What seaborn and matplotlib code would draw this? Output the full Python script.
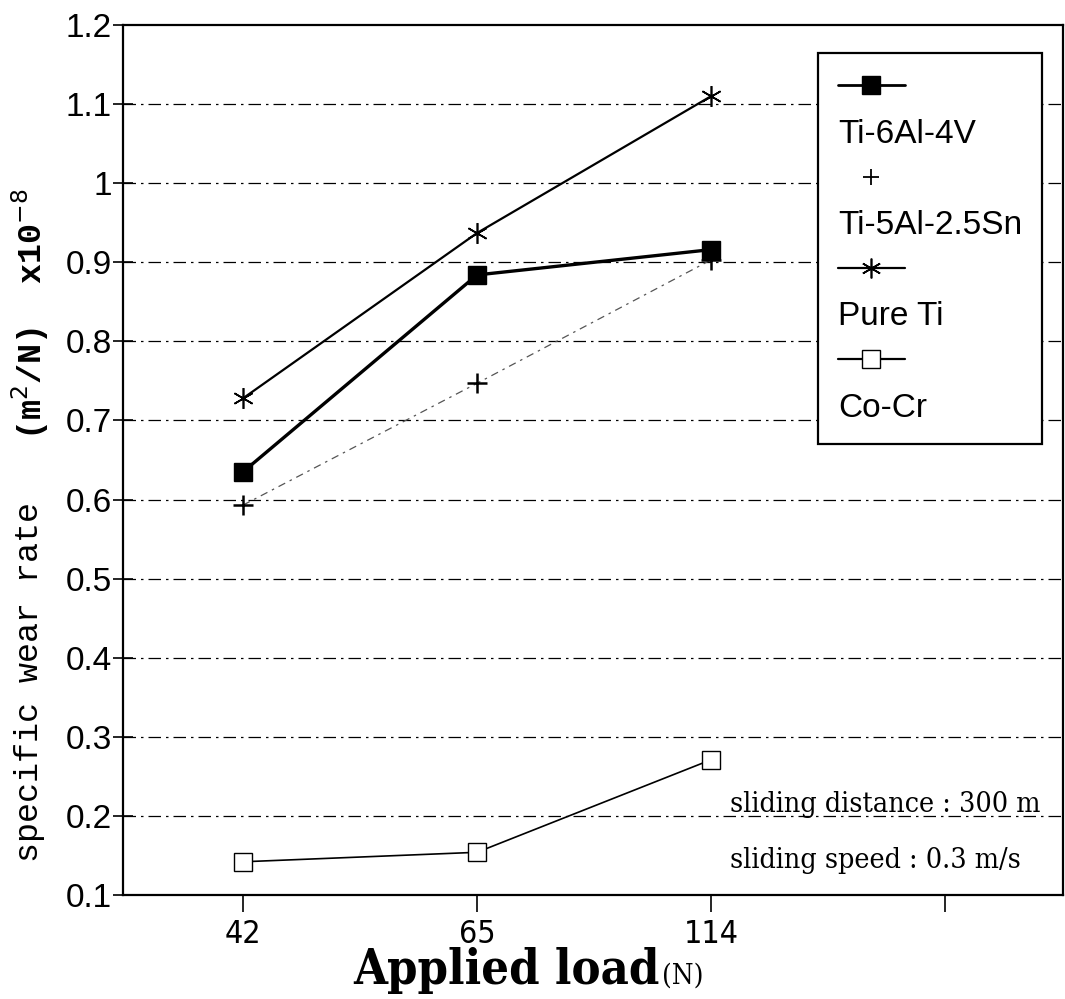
import matplotlib
matplotlib.use("Agg")
import matplotlib.pyplot as plt
import seaborn as sns
import pandas as pd
from matplotlib.lines import Line2D

# ---------------- data ----------------
loads = ["42", "65", "114"]
ti64 = [0.635, 0.884, 0.916]
ti5al = [0.593, 0.747, 0.903]
pure_ti = [0.728, 0.937, 1.110]
cocr = [0.142, 0.154, 0.271]
series_names = ["Ti-6Al-4V", "Ti-5Al-2.5Sn", "Pure Ti", "Co-Cr"]
y_ticks = [0.1, 0.2, 0.3, 0.4, 0.5, 0.6, 0.7, 0.8, 0.9, 1.0, 1.1, 1.2]
y_tick_labels = ["0.1", "0.2", "0.3", "0.4", "0.5", "0.6", "0.7", "0.8", "0.9", "1", "1.1", "1.2"]
x_tick_labels = loads + [""]
note_lines = ["sliding distance : 300 m", "sliding speed : 0.3 m/s"]

# ---------------- styles ----------------
styles = {
    "Ti-6Al-4V": dict(color="black", lw=2.4, ls="-", marker="s", ms=13, mfc="black", mec="black", mew=1),
    "Ti-5Al-2.5Sn": dict(color="#555555", lw=0.9, ls=(0, (6, 4, 2, 4)), marker="+", ms=15, mfc="black", mec="black", mew=1.8),
    "Pure Ti": dict(color="black", lw=1.6, ls="-", marker=(6, 2, 0), ms=15, mfc="black", mec="black", mew=1.2),
    "Co-Cr": dict(color="black", lw=1.2, ls="-", marker="s", ms=13, mfc="white", mec="black", mew=1.0),
}

sns.set_style("ticks")
plt.rcParams["font.family"] = ["Liberation Sans", "DejaVu Sans"]
plt.rcParams["text.color"] = "black"
plt.rcParams["xtick.color"] = "black"
plt.rcParams["ytick.color"] = "black"
plt.rcParams["axes.labelcolor"] = "black"

fig = plt.figure(figsize=(10.65, 9.99), dpi=100)
ax = fig.add_axes([123 / 1065, 1 - 895 / 999, 940 / 1065, 870 / 999])

values = {"Ti-6Al-4V": ti64, "Ti-5Al-2.5Sn": ti5al, "Pure Ti": pure_ti, "Co-Cr": cocr}
xpos = list(range(len(loads)))
for name in series_names:
    df = pd.DataFrame({"x": xpos, "y": values[name]})
    st = styles[name]
    sns.lineplot(data=df, x="x", y="y", ax=ax, color=st["color"], linewidth=st["lw"],
                 linestyle=st["ls"], marker=st["marker"], markersize=st["ms"],
                 markerfacecolor=st["mfc"], markeredgecolor=st["mec"], markeredgewidth=st["mew"],
                 legend=False, zorder=3)

ax.set_xlim(-0.513, 3.504)
ax.set_ylim(0.1, 1.2)
ax.set_xticks(list(range(len(x_tick_labels))))
ax.set_xticklabels(x_tick_labels, fontsize=23, fontstretch="condensed",
                   fontfamily=["DejaVu Sans"])
ax.set_yticks(y_ticks)
ax.set_yticklabels(y_tick_labels, fontsize=24)
ax.tick_params(axis="y", direction="inout", length=14, width=1.2, pad=1, colors="black")
ax.tick_params(axis="x", direction="out", length=12, width=1.2, pad=5, colors="black")
ax.set_xlabel("")
ax.set_ylabel("")

for s in ax.spines.values():
    s.set_linewidth(1.6)
    s.set_color("black")

# horizontal dash-dot grid
for yv in y_ticks[1:-1]:
    ax.axhline(yv, color="black", lw=0.9, ls=(0, (10, 4, 2, 4)), zorder=1)

# y label (two parts, reading bottom to top)
mono = ["Liberation Mono", "DejaVu Sans Mono"]
ylab_x = (30 - 123) / 940
ax.text(ylab_x, (895 - 862) / 870, "specific wear rate", rotation=90, ha="center", va="bottom",
        transform=ax.transAxes, fontsize=24, family=mono)
ax.text(ylab_x, (895 - 440) / 870, "(m$^2$/N)  x10$^{-8}$", rotation=90, ha="center", va="bottom",
        transform=ax.transAxes, fontsize=24, fontweight="bold", family=mono)

# x label
ax.text((660 - 123) / 940, -0.102, "Applied load", ha="right", va="baseline", transform=ax.transAxes,
        fontsize=35, fontweight="bold", family=["DejaVu Serif"], fontstretch="condensed")
ax.text((662 - 123) / 940, -0.102, "(N)", ha="left", va="baseline", transform=ax.transAxes,
        fontsize=20, family=["DejaVu Serif"], fontstretch="condensed")

# notes
ax.text((730 - 123) / 940, (895 - 805) / 870, note_lines[0], ha="left", va="center",
        transform=ax.transAxes, fontsize=20.5, family=["DejaVu Serif"], fontstretch="condensed")
ax.text((730 - 123) / 940, (895 - 860) / 870, note_lines[1], ha="left", va="center",
        transform=ax.transAxes, fontsize=20.5, family=["DejaVu Serif"], fontstretch="condensed")

# legend: handle row above each label
handles, labels = [], []
for name in series_names:
    st = styles[name]
    if name == "Ti-5Al-2.5Sn":
        h = Line2D([], [], ls="none", marker=st["marker"], ms=st["ms"] * 0.8,
                   mfc=st["mfc"], mec=st["mec"], mew=1.3)
    else:
        lw = 1.6 if name != "Ti-6Al-4V" else 2.0
        h = Line2D([], [], color="black", lw=lw, ls="-", marker=st["marker"],
                   ms=st["ms"] * 0.95, mfc=st["mfc"], mec=st["mec"], mew=st["mew"])
    handles.append(h)
    labels.append(" ")
    handles.append(Line2D([], [], ls="none"))
    labels.append(name)

leg = ax.legend(handles, labels, loc="upper right",
                bbox_to_anchor=((1042 - 123) / 940, (895 - 53) / 870),
                borderaxespad=0, fontsize=24, handlelength=2.0, handletextpad=-2.0,
                labelspacing=0.44, borderpad=0.6, frameon=True, fancybox=False,
                framealpha=1, edgecolor="black")
leg.get_frame().set_linewidth(1.6)
leg.set_zorder(5)

fig.savefig("out.png", dpi=100)
